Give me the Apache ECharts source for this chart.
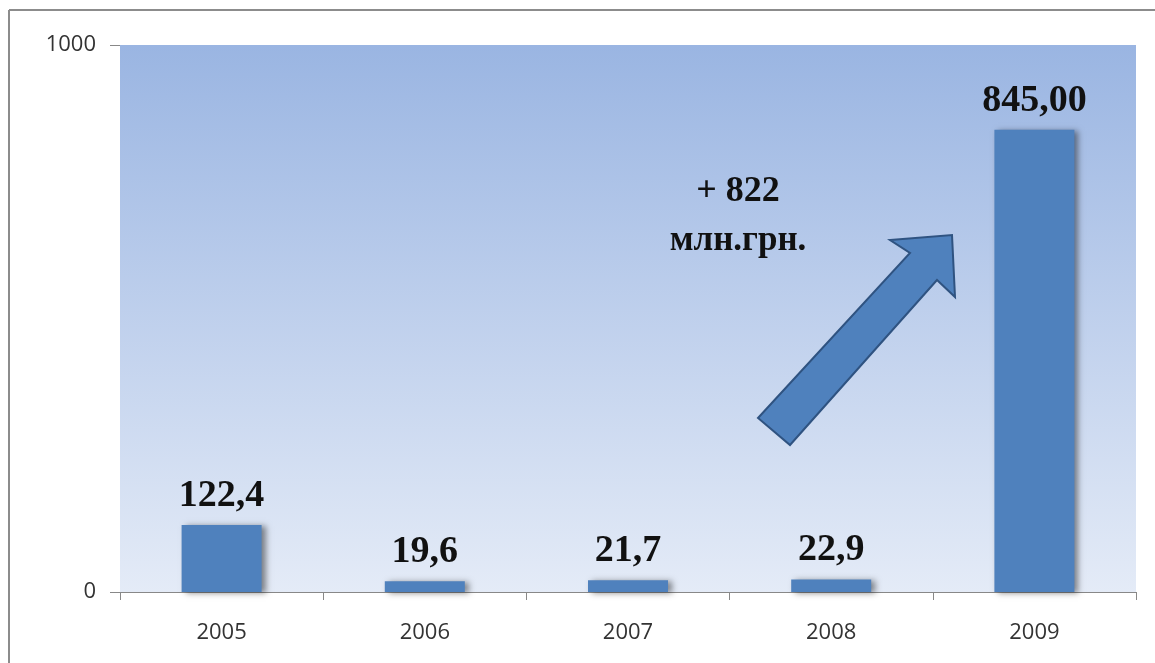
<!DOCTYPE html>
<html>
<head>
<meta charset="utf-8">
<script src="https://cdn.jsdelivr.net/npm/echarts@6/dist/echarts.min.js"></script>
<style>
html,body{margin:0;padding:0;background:#fff;}
#chart{width:1155px;height:663px;}
</style>
</head>
<body>
<div id="chart"></div>
<script>
var categories = ['2005', '2006', '2007', '2008', '2009'];
var values = [122.4, 19.6, 21.7, 22.9, 845.00];
var valueLabels = ['122,4', '19,6', '21,7', '22,9', '845,00'];
var yTicks = [0, 1000];
var annotationLines = ['+ 822', 'млн.грн.'];

var chart = echarts.init(document.getElementById('chart'));
var option = {
  animation: false,
  grid: {
    left: 120, right: 19, top: 45, bottom: 71,
    show: true,
    borderWidth: 0,
    backgroundColor: {
      type: 'linear', x: 0, y: 0, x2: 0, y2: 1,
      colorStops: [
        {offset: 0, color: '#9AB5E2'},
        {offset: 1, color: '#E4EBF7'}
      ]
    }
  },
  xAxis: {
    type: 'category',
    data: categories,
    axisLine: {show: true, lineStyle: {color: '#888888', width: 1}},
    axisTick: {show: true, length: 8, lineStyle: {color: '#888888'}},
    axisLabel: {color: '#333333', fontFamily: 'Open Sans', fontSize: 22, margin: 30}
  },
  yAxis: {
    type: 'value',
    min: yTicks[0], max: yTicks[yTicks.length - 1], interval: 1000,
    axisLine: {show: false},
    axisTick: {show: true, length: 10, lineStyle: {color: '#888888'}},
    splitLine: {show: false},
    axisLabel: {
      color: '#333333', fontFamily: 'Open Sans', fontSize: 22, margin: 24,
      formatter: function (v) { return String(v); }
    }
  },
  series: [{
    type: 'bar',
    data: values,
    barWidth: 80,
    itemStyle: {
      color: '#4F81BD',
      shadowColor: 'rgba(0,0,0,0.45)',
      shadowBlur: 6,
      shadowOffsetX: 4,
      shadowOffsetY: 1
    },
    label: {
      show: true,
      position: 'top',
      distance: 10,
      formatter: function (p) { return valueLabels[p.dataIndex]; },
      fontFamily: 'Liberation Serif',
      fontWeight: 'bold',
      fontSize: 38,
      color: '#111111'
    }
  }],
  graphic: [
    {type: 'line', shape: {x1: 9, y1: 10, x2: 1155, y2: 10}, style: {stroke: '#8c8c8c', lineWidth: 2}, z: 10},
    {type: 'line', shape: {x1: 9, y1: 10, x2: 9, y2: 663}, style: {stroke: '#8c8c8c', lineWidth: 2}, z: 10},
    {
      type: 'polygon',
      shape: {points: [[758, 418], [910, 253], [890, 240], [952, 235], [955, 297], [937, 280], [790, 445]]},
      style: {fill: '#4F81BD', stroke: '#2F5381', lineWidth: 2},
      z: 10
    },
    {type: 'text', style: {text: annotationLines[0], x: 738, y: 192, textAlign: 'center', textVerticalAlign: 'middle', font: 'bold 36px "Liberation Serif"', fill: '#111111'}, z: 10},
    {type: 'text', style: {text: annotationLines[1], x: 738, y: 241, textAlign: 'center', textVerticalAlign: 'middle', font: 'bold 35px "Liberation Serif"', fill: '#111111'}, z: 10}
  ]
};
chart.setOption(option);
</script>
</body>
</html>
